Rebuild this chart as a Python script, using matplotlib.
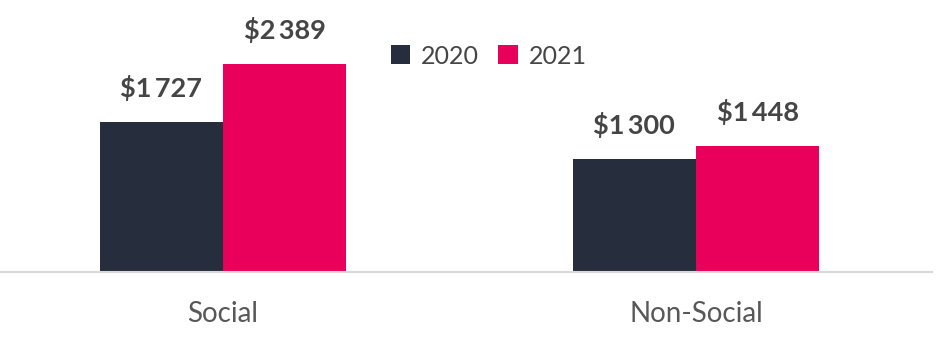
import matplotlib
matplotlib.use("Agg")
import matplotlib.pyplot as plt
import numpy as np

categories = ["Social", "Non-Social"]
years = ["2020", "2021"]
values_2020 = [1727, 1300]
values_2021 = [2389, 1448]

navy = "#262d3d"
pink = "#e8005a"
text_col = "#454545"

plt.rcParams['font.family'] = ['Lato', 'DejaVu Sans']

fig = plt.figure(figsize=(9.49, 3.53), dpi=100)
ax = fig.add_axes([0, 81 / 353, 932 / 949, 272 / 353])

x = np.arange(len(categories))
w = 0.261
b1 = ax.bar(x - w / 2, values_2020, w, color=navy, label=years[0])
b2 = ax.bar(x + w / 2, values_2021, w, color=pink, label=years[1])


def fmt(v):
    return "$" + f"{v:,}".replace(",", "\u2009")


for bars, vals in [(b1, values_2020), (b2, values_2021)]:
    ax.bar_label(bars, labels=[fmt(v) for v in vals], padding=15,
                 fontsize=19.5, fontweight="bold", color=text_col)

ax.set_xlim(-223 / 473, (932 - 223) / 473)
ax.set_ylim(0, 272 * 11.5)

for s in ["top", "right", "left"]:
    ax.spines[s].set_visible(False)
ax.spines["bottom"].set_color("#d9d9d9")
ax.spines["bottom"].set_linewidth(1.5)
ax.set_yticks([])
ax.set_xticks(x)
ax.set_xticklabels(categories, fontsize=20, fontweight="normal", color="#585858")
ax.tick_params(axis="x", length=0, pad=21)

ax.legend(loc="upper left", bbox_to_anchor=(368 / 932, 1 - 22 / 272), ncol=2,
          frameon=False, fontsize=18, handlelength=0.78, handleheight=0.78,
          handletextpad=0.45, columnspacing=0.75, labelcolor=text_col)

fig.savefig("out.png", dpi=100)
